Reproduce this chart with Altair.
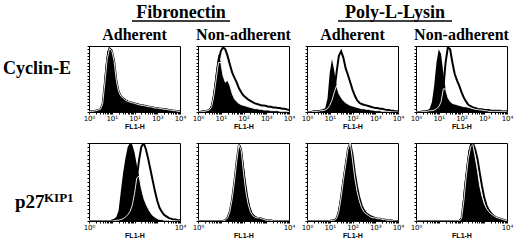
import altair as alt
import pandas as pd
import math

# ---------------- data ----------------
LOG_X = [0.0, 0.1, 0.2, 0.3, 0.4, 0.5, 0.6, 0.7, 0.8, 0.9,
         1.0, 1.1, 1.2, 1.3, 1.4, 1.5, 1.6, 1.7, 1.8, 1.9,
         2.0, 2.1, 2.2, 2.3, 2.4, 2.5, 2.6, 2.7, 2.8, 2.9,
         3.0, 3.1, 3.2, 3.3, 3.4, 3.5, 3.6, 3.7, 3.8, 3.9, 4.0]

# Cyclin-E, Fibronectin adherent
CE_FN_ADH_FILLED = [0, 1, 1, 2, 3, 5, 15, 60, 92, 98,
                    95, 80, 50, 33, 25, 22, 19, 17, 16, 15,
                    14, 13, 12, 11, 11, 10, 9, 9, 8, 7,
                    7, 6, 6, 5, 5, 4, 3, 3, 2, 1, 1]
CE_FN_ADH_OPEN = [0, 1, 1, 2, 3, 4, 12, 45, 80, 96,
                  93, 78, 48, 31, 24, 21, 18, 16, 15, 14,
                  13, 12, 11, 10, 10, 9, 8, 8, 7, 6,
                  6, 5, 5, 4, 4, 3, 3, 2, 2, 1, 1]
# Cyclin-E, Fibronectin non-adherent
CE_FN_NON_FILLED = [0, 1, 1, 2, 2, 4, 12, 35, 65, 88,
                    75, 55, 45, 48, 40, 28, 20, 16, 13, 11,
                    10, 9, 8, 7, 6, 5, 5, 4, 4, 3,
                    3, 3, 2, 2, 2, 2, 1, 1, 1, 1, 0]
CE_FN_NON_OPEN = [0, 0, 1, 1, 2, 3, 8, 25, 50, 75,
                  92, 98, 95, 85, 72, 60, 52, 45, 36, 30,
                  25, 22, 19, 17, 15, 13, 12, 11, 10, 10,
                  9, 8, 8, 7, 7, 6, 6, 5, 5, 4, 3]
# Cyclin-E, Poly-L-Lysin adherent
CE_PL_ADH_FILLED = [0, 0, 1, 2, 2, 3, 3, 4, 6, 20,
                    60, 80, 62, 40, 28, 22, 17, 14, 12, 10,
                    9, 8, 7, 6, 5, 5, 4, 4, 3, 3,
                    2, 2, 2, 1, 1, 1, 1, 0, 0, 0, 0]
CE_PL_ADH_OPEN = [0, 0, 0, 1, 1, 1, 2, 2, 3, 5,
                  10, 18, 30, 60, 85, 92, 82, 66, 56, 45,
                  34, 25, 18, 14, 12, 11, 10, 9, 8, 7,
                  6, 6, 5, 5, 4, 3, 3, 2, 2, 1, 1]
# Cyclin-E, Poly-L-Lysin non-adherent
CE_PL_NON_FILLED = [0, 0, 1, 1, 2, 3, 5, 15, 40, 75,
                    95, 88, 60, 35, 22, 16, 13, 12, 11, 10,
                    9, 8, 8, 7, 6, 5, 4, 4, 3, 3,
                    2, 2, 1, 1, 1, 1, 1, 1, 1, 1, 0]
CE_PL_NON_OPEN = [0, 0, 0, 1, 1, 1, 2, 2, 3, 5,
                  8, 15, 35, 75, 98, 95, 75, 58, 48, 40,
                  30, 22, 16, 11, 9, 7, 6, 5, 4, 4,
                  3, 3, 3, 2, 2, 2, 2, 2, 1, 1, 1]

# p27KIP1, Fibronectin adherent
P27_FN_ADH_FILLED = [0, 0, 0, 0, 0, 0, 0, 0, 1, 1,
                     2, 3, 5, 13, 38, 62, 80, 95, 100, 98,
                     88, 72, 58, 42, 30, 22, 16, 11, 7, 5,
                     3, 2, 2, 1, 1, 1, 0, 0, 0, 0, 0]
P27_FN_ADH_OPEN = [0, 0, 0, 0, 0, 0, 0, 0, 0, 0,
                   0, 0, 1, 1, 2, 3, 5, 8, 12, 20,
                   35, 55, 78, 95, 100, 92, 80, 66, 52, 38,
                   26, 17, 12, 8, 6, 4, 3, 2, 2, 1, 1]
# p27KIP1, Fibronectin non-adherent
P27_FN_NON_FILLED = [0, 0, 0, 0, 0, 0, 0, 0, 0, 0,
                     0, 0, 2, 6, 15, 32, 55, 80, 100, 95,
                     75, 52, 32, 18, 10, 7, 5, 5, 4, 3,
                     2, 1, 1, 1, 0, 0, 0, 0, 0, 0, 0]
P27_FN_NON_OPEN = [0, 0, 0, 0, 0, 0, 0, 0, 0, 0,
                   0, 0, 1, 4, 12, 28, 50, 76, 98, 90,
                   62, 38, 22, 12, 7, 5, 4, 4, 3, 2,
                   1, 1, 1, 0, 0, 0, 0, 0, 0, 0, 0]
# p27KIP1, Poly-L-Lysin adherent
P27_PL_ADH_FILLED = [0, 0, 0, 0, 0, 0, 0, 0, 0, 0,
                     1, 1, 2, 5, 18, 38, 58, 78, 95, 100,
                     78, 55, 38, 26, 17, 12, 9, 7, 5, 4,
                     4, 3, 3, 2, 2, 1, 1, 1, 0, 0, 0]
P27_PL_ADH_OPEN = [0, 0, 0, 0, 0, 0, 0, 0, 0, 0,
                   0, 1, 1, 3, 12, 30, 52, 72, 92, 100,
                   85, 62, 44, 30, 20, 14, 10, 8, 6, 5,
                   4, 3, 3, 2, 2, 1, 1, 1, 0, 0, 0]
# p27KIP1, Poly-L-Lysin non-adherent
P27_PL_NON_FILLED = [0, 0, 0, 0, 0, 0, 0, 0, 0, 0,
                     0, 0, 0, 0, 0, 0, 0, 0, 0, 1,
                     5, 40, 65, 90, 100, 98, 82, 65, 45, 32,
                     22, 16, 12, 9, 7, 5, 4, 3, 2, 1, 0]
P27_PL_NON_OPEN = [0, 0, 0, 0, 0, 0, 0, 0, 0, 0,
                   0, 0, 0, 0, 0, 0, 0, 0, 0, 0,
                   3, 25, 55, 80, 95, 100, 92, 80, 62, 45,
                   30, 20, 14, 10, 7, 5, 4, 3, 2, 1, 0]

GROUPS = ["Fibronectin", "Poly-L-Lysin"]
CONDITIONS = ["Adherent", "Non-adherent", "Adherent", "Non-adherent"]
ROW_LABEL_1 = "Cyclin-E"
ROW_LABEL_2_MAIN = "p27"
ROW_LABEL_2_SUP = "KIP1"
AXIS_TITLE = "FL1-H"
TICK_LABELS = ["10⁰", "10¹", "10²", "10³", "10⁴"]

# ---------------- layout ----------------
LABEL_W = 70
PANEL_W = 91
GAP = 18
ROW_GAP = 31
HEADER_H = 14          # header cell; its texts extend below into the gap
ROW1_H = 66
ROW2_H = 78

MAJOR = [0, 1, 2, 3, 4]
MINOR = [round(d + math.log10(m), 4) for d in range(4) for m in range(2, 10)]
XTICKS = MAJOR + MINOR

SERIF = "Liberation Serif"
SANS = "Liberation Sans"


def label_expr(shown):
    parts = [f"datum.value == {v} ? '{TICK_LABELS[v]}'" for v in shown]
    return " : ".join(parts) + " : ''"


def panel(filled, opened, height, shown):
    df = pd.DataFrame({"x": LOG_X, "f": filled, "o": opened})
    xaxis = alt.Axis(values=XTICKS, labelExpr=label_expr(shown), title=AXIS_TITLE,
                     titleFont=SANS, titleFontSize=7, titleFontWeight="bold",
                     titlePadding=1, labelFont="DejaVu Sans", labelFontSize=7,
                     labelPadding=0, labelFlush=False, labelOverlap=False,
                     labelBound=False, tickSize=2, tickColor="black",
                     labelColor="black", titleColor="black",
                     domain=False, grid=False)
    yaxis = alt.Axis(values=list(range(0, 101, 5)), labels=False, title=None,
                     tickSize=2, tickColor="black", domain=False, grid=False)
    xs = alt.Scale(domain=[0, 4], nice=False, zero=False)
    ys = alt.Scale(domain=[0, 100], nice=False)
    base = alt.Chart(df)
    outline = base.mark_line(color="black", strokeWidth=2, clip=True).encode(
        x=alt.X("x:Q", scale=xs, axis=xaxis),
        y=alt.Y("o:Q", scale=ys, axis=yaxis),
    )
    fill = base.mark_area(color="black", opacity=1, clip=True).encode(
        x=alt.X("x:Q", scale=xs, axis=xaxis),
        y=alt.Y("f:Q", scale=ys, axis=yaxis),
    )
    inner = base.transform_calculate(m="min(datum.o, datum.f)").mark_line(
        color="white", strokeWidth=0.9, clip=True).encode(
        x=alt.X("x:Q", scale=xs, axis=xaxis),
        y=alt.Y("m:Q", scale=ys, axis=yaxis),
    )
    return alt.layer(outline, fill, inner).properties(width=PANEL_W, height=height)


def text_layer(txt, x, y, size, align="left", font=SERIF):
    return alt.Chart(pd.DataFrame({"t": [txt]})).mark_text(
        font=font, fontSize=size, fontWeight="bold", align=align,
        baseline="alphabetic", color="black").encode(
        text="t:N", x=alt.value(x), y=alt.value(y))


def rule_layer(x1, x2, y):
    return alt.Chart(pd.DataFrame({"t": [0]})).mark_rule(
        color="black", strokeWidth=1.3).encode(
        x=alt.value(x1), x2=alt.value(x2), y=alt.value(y))


noframe = alt.ViewBackground(stroke="transparent")

# header cells (first row of the grid)
hdr_blank = text_layer("", 0, 14, 10).properties(width=LABEL_W, height=HEADER_H, view=noframe)
hdr_cells = []
group_pos = {0: (GROUPS[0], 92, 49), 2: (GROUPS[1], 88, 57)}
for i, lab in enumerate(CONDITIONS):
    layers = [text_layer(lab, PANEL_W / 2, 39, 16, "center")]
    if i in group_pos:
        g, gx, half = group_pos[i]
        layers.append(text_layer(g, gx, 17, 18, "center"))
        layers.append(rule_layer(gx - half, gx + half, 20))
    hdr_cells.append(alt.layer(*layers).properties(width=PANEL_W, height=HEADER_H, view=noframe))

# row labels: offsets relative to their row cell's top
label1 = text_layer(ROW_LABEL_1, 2, 28, 18).properties(width=LABEL_W, height=ROW1_H, view=noframe)
label2 = alt.layer(
    text_layer(ROW_LABEL_2_MAIN, 14, 65, 19),
    text_layer(ROW_LABEL_2_SUP, 43, 59, 13),
).properties(width=LABEL_W, height=ROW2_H, view=noframe)

cells = [hdr_blank] + hdr_cells + [
    label1,
    panel(CE_FN_ADH_FILLED, CE_FN_ADH_OPEN, ROW1_H, MAJOR),
    panel(CE_FN_NON_FILLED, CE_FN_NON_OPEN, ROW1_H, MAJOR),
    panel(CE_PL_ADH_FILLED, CE_PL_ADH_OPEN, ROW1_H, MAJOR),
    panel(CE_PL_NON_FILLED, CE_PL_NON_OPEN, ROW1_H, MAJOR),
    label2,
    panel(P27_FN_ADH_FILLED, P27_FN_ADH_OPEN, ROW2_H, [0, 4]),
    panel(P27_FN_NON_FILLED, P27_FN_NON_OPEN, ROW2_H, [0, 4]),
    panel(P27_PL_ADH_FILLED, P27_PL_ADH_OPEN, ROW2_H, MAJOR),
    panel(P27_PL_NON_FILLED, P27_PL_NON_OPEN, ROW2_H, [0, 4]),
]

chart = alt.concat(*cells, columns=5, spacing={"row": ROW_GAP, "column": GAP},
                   bounds="flush").properties(
    padding=0, background="white"
).configure_view(stroke="black", strokeWidth=1)

chart.save("out.html", embed_options={"renderer": "svg", "actions": False})
